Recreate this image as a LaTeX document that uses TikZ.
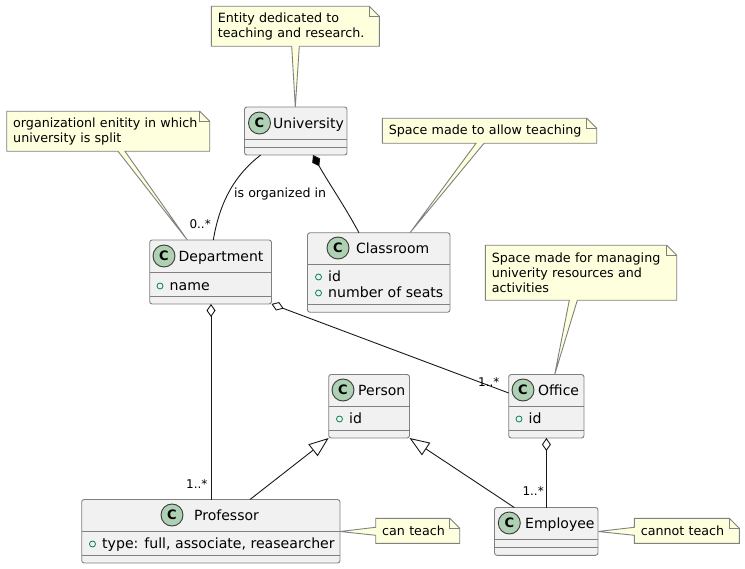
\documentclass[tikz,border=0pt]{standalone}
\usepackage{fontspec}
\setmainfont{DejaVu Sans}
\usetikzlibrary{arrows.meta,backgrounds}
\definecolor{classfill}{HTML}{F1F1F1}
\definecolor{iconfill}{HTML}{ADD1B2}
\definecolor{notefill}{HTML}{FEFFDD}
\definecolor{fieldline}{HTML}{038048}
\definecolor{darkline}{HTML}{181818}
\tikzset{
	classbox/.style={draw=darkline!55, line width=0.9pt, fill=classfill, rounded corners=2.5pt, inner sep=0pt, outer sep=0pt},
	classline/.style={draw=darkline!55, line width=0.9pt},
	classicon/.style={circle, draw=darkline!85, line width=0.9pt, fill=iconfill, minimum size=22pt, inner sep=0pt, font=\fontsize{13}{13}\selectfont\bfseries},
	classtitle/.style={anchor=base west, inner sep=0pt, font=\fontsize{14}{16}\selectfont, text=black},
	fieldtext/.style={anchor=base west, inner sep=0pt, font=\fontsize{14.1}{16}\selectfont, text=black},
	fieldmark/.style={circle, draw=fieldline, line width=0.8pt, minimum size=6pt, inner sep=0pt},
	notebox/.style={anchor=north west, inner xsep=6.5pt, inner ysep=0pt, outer sep=0pt, align=left, font=\fontsize{12.7}{15}\selectfont},
	noteline/.style={draw=darkline!55, line width=0.9pt, fill=notefill},
	assoc/.style={draw=darkline, line width=0.9pt},
	edgelabel/.style={anchor=base west, inner sep=0pt, font=\fontsize{12.6}{15}\selectfont},
	multlabel/.style={anchor=base west, inner sep=0pt, font=\fontsize{12}{14}\selectfont},
	open diamond/.style={{Diamond[open,fill=white,length=13pt,width=9pt]}-},
	full diamond/.style={{Diamond[fill=black,length=13pt,width=9pt]}-},
	open triangle/.style={{Triangle[open,fill=white,length=20pt,width=15pt]}-},
}
\begin{document}
\begin{tikzpicture}[x=1pt,y=1pt]
	\useasboundingbox (0,0) rectangle (745,-569);
		% classes: name, centre, size, dividers, icon, title
		\foreach \name/\x/\y/\w/\h/\da/\db/\ix/\iy/\tx in {
			University/295.75/131/102.5/48/139.5/147.5/259.5/123/273,
			Department/210.6/272/121.8/64/272.5/296/164/256/178.5,
			Classroom/378.75/272.5/142.5/79.5/264.5/304.5/338/248/356,
			Person/369.1/406.25/80.8/63.5/406.5/430/343/390/358,
			Office/546.35/406.25/75.3/63.5/406.5/430/523/390/538,
			Professor/210.85/531.25/258.3/63.5/531.5/555/172/515/194,
			Employee/546.25/531.4/103.5/47.8/539.3/547.3/509.3/523/525
		}{
			\node[classbox, minimum width=\w pt, minimum height=\h pt] (\name) at (\x,-\y) {};
			\draw[classline] (\name.west |- 0,-\da) -- (\name.east |- 0,-\da);
			\draw[classline] (\name.west |- 0,-\db) -- (\name.east |- 0,-\db);
			\node[classicon] (\name Icon) at (\ix,-\iy) {C};
			\node[classtitle] (\name Title) at (\tx,-\iy-5.3) {\name};
		}
		% fields
		\foreach \n/\x/\y/\t in {
			Name/160/286/name,
			RoomId/318.5/277/id,
			Seats/318.5/293/number of seats,
			PersonId/339.5/419/id,
			OfficeId/519/419/id,
			Type/92.5/544/{type: full, associate, reasearcher}
		}{
			\node[fieldmark] (Mark\n) at (\x,-\y) {};
			\node[fieldtext] (Field\n) at (\x+9.5,-\y+0.3-5) {\t};
		}
		% notes
		\foreach \n/\x/\y/\w/\h/\t in {
			University/211.3/6.3/168/40/{Entity dedicated to\\teaching and research.},
			Department/6.7/111.3/203/40/{organizationl enitity in which\\university is split},
			Classroom/382.3/118.3/214.4/25/{Space made to allow teaching},
			Office/485.3/245.3/191.4/55/{Space made for managing\\univerity resources and\\activities},
			Professor/375.7/518.3/84/25/{can teach},
			Employee/634.3/518.3/105/25/{cannot teach}
		}{
			\node[notebox, text width=\w pt-13pt, minimum height=\h pt] (Note\n) at (\x,-\y) {\t};
		}
		\begin{scope}[on background layer]
			\foreach \n/\a/\b/\tx in {
				University/291.7/299.3/295.3,
				Department/118/125/187.3,
				Classroom/476/484/410,
				Office/569.3/577.3/554.7
			}{
				\draw[noteline] (Note\n.south west) -- (Note\n.north west) -- ([xshift=-10pt]Note\n.north east) -- ([yshift=-10pt]Note\n.north east) -- (Note\n.south east) -- (\b,0 |- Note\n.south) -- (\tx,0 |- \n.north) -- (\a,0 |- Note\n.south) -- cycle;
				\draw[noteline, fill=none] ([xshift=-10pt]Note\n.north east) -- ([xshift=-10pt,yshift=-10pt]Note\n.north east) -- ([yshift=-10pt]Note\n.north east);
			}
			\foreach \n in {Professor,Employee}{
				\draw[noteline] (Note\n.south west) -- (0,-535.3 -| Note\n.west) -- (\n.east |- 0,-531.5) -- (0,-527.3 -| Note\n.west) -- (Note\n.north west) -- ([xshift=-10pt]Note\n.north east) -- ([yshift=-10pt]Note\n.north east) -- (Note\n.south east) -- cycle;
				\draw[noteline, fill=none] ([xshift=-10pt]Note\n.north east) -- ([xshift=-10pt,yshift=-10pt]Note\n.north east) -- ([yshift=-10pt]Note\n.north east);
			}
		\end{scope}
		% connectors
		\draw[assoc] (260.7,0 |- University.south) .. controls (236,-174) and (220,-200) .. (213.3,0 |- Department.north);
		\draw[assoc, full diamond] (313,0 |- University.south) .. controls (328,-182) and (344,-205) .. (359,0 |- Classroom.north);
		\draw[assoc, open diamond] (211,0 |- Department.south) -- (211,0 |- Professor.north);
		\draw[assoc, open diamond] (Department.south east) -- (Office.west |- 0,-393);
		\draw[assoc, open diamond] (546.4,0 |- Office.south) -- (546.4,0 |- Employee.north);
		\draw[assoc, open triangle] (Person.south west) -- (250,0 |- Professor.north);
		\draw[assoc, open triangle] (Person.south east) -- (514.3,0 |- Employee.north);
		% labels
		\node[edgelabel] (LabelOrganized) at (234,-197.7) {is organized in};
		\node[multlabel] (MultDepartment) at (189.3,-228.7) {0..*};
		\node[multlabel] (MultOffice) at (478,-386.7) {1..*};
		\node[multlabel] (MultProfessor) at (186,-488.3) {1..*};
		\node[multlabel] (MultEmployee) at (522.3,-495.7) {1..*};
	\end{tikzpicture}
\end{document}
